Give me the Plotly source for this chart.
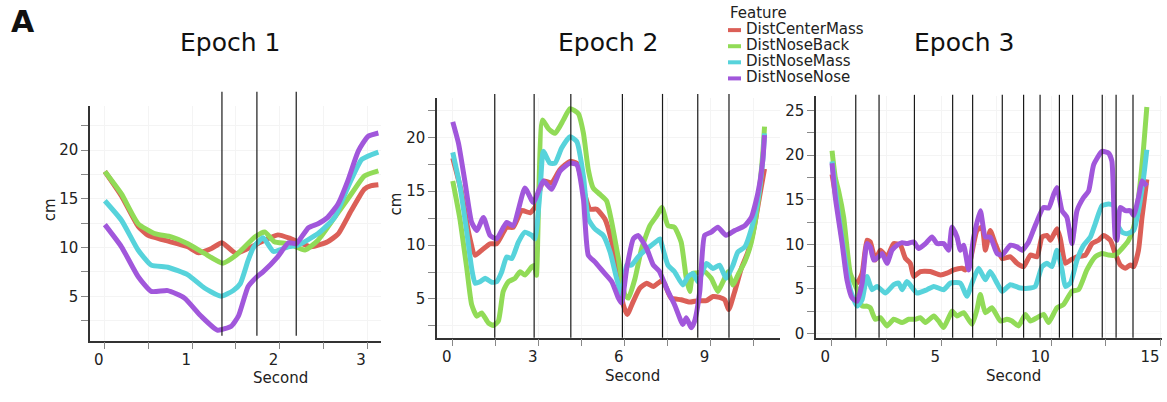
import plotly.graph_objects as go

W, H = 1167, 402
FONT = "DejaVu Sans"

features = ["DistCenterMass", "DistNoseBack", "DistNoseMass", "DistNoseNose"]
colors = ["#db5f57", "#91db57", "#57d3db", "#a157db"]
epoch_titles = ["Epoch 1", "Epoch 2", "Epoch 3"]

# ---------------- Epoch 1 ----------------
e1_center_t = [0.0, 0.19, 0.38, 0.49, 0.68, 0.95, 1.07, 1.22, 1.34, 1.5, 1.75, 1.98, 2.13, 2.36, 2.55, 2.67, 2.82, 2.97, 3.05, 3.13]
e1_center_v = [17.8, 15.3, 12.2, 11.27, 10.76, 10.08, 9.47, 9.9, 10.5, 9.4, 10.4, 11.3, 10.9, 10.08, 10.6, 11.4, 13.8, 16.0, 16.35, 16.45]
e1_back_t = [0.0, 0.19, 0.38, 0.57, 0.76, 0.95, 1.14, 1.35, 1.5, 1.72, 1.83, 1.94, 2.10, 2.29, 2.44, 2.63, 2.82, 2.97, 3.13]
e1_back_v = [17.8, 15.5, 12.45, 11.43, 11.1, 10.4, 9.4, 8.4, 9.2, 11.1, 11.6, 10.6, 10.4, 9.75, 10.76, 13.1, 15.5, 17.35, 17.87]
e1_mass_t = [0.0, 0.19, 0.38, 0.53, 0.72, 0.95, 1.14, 1.33, 1.47, 1.55, 1.64, 1.70, 1.81, 1.93, 2.10, 2.21, 2.44, 2.63, 2.78, 2.94, 3.13]
e1_mass_v = [14.8, 12.8, 9.75, 8.2, 7.98, 7.2, 5.85, 5.0, 5.6, 6.3, 8.7, 10.0, 11.0, 9.6, 10.08, 10.25, 11.43, 13.1, 16.17, 19.05, 19.8]
e1_nose_t = [0.0, 0.19, 0.38, 0.53, 0.72, 0.91, 1.10, 1.29, 1.45, 1.53, 1.64, 1.74, 1.81, 1.98, 2.10, 2.19, 2.33, 2.44, 2.55, 2.67, 2.78, 2.90, 3.01, 3.13]
e1_nose_v = [12.35, 10.08, 7.03, 5.5, 5.58, 4.83, 2.97, 1.52, 1.96, 3.0, 6.0, 7.0, 7.5, 9.07, 10.5, 10.4, 12.04, 12.45, 13.1, 14.5, 16.85, 19.9, 21.4, 21.75]
e1_events = [1.34, 1.74, 2.19]

# ---------------- Epoch 2 ----------------
e2_center_t = [0, 0.31, 0.55, 0.78, 1.01, 1.30, 1.53, 1.88, 2.11, 2.41, 2.70, 2.87, 3.16, 3.45, 3.74, 4.09, 4.33, 4.56, 4.79, 5.02, 5.31, 5.55, 5.78, 5.95, 6.09, 6.30, 6.53, 6.77, 7.0, 7.29, 7.39, 7.62, 7.97, 8.27, 8.56, 8.85, 9.08, 9.31, 9.49, 9.63, 9.84, 10.07, 10.3, 10.53, 10.71, 10.88]
e2_center_v = [18.07, 14.86, 11.2, 9.06, 9.52, 10.12, 10.12, 11.65, 11.65, 13.2, 13.0, 13.5, 15.94, 15.78, 17.0, 17.77, 17.6, 15.17, 13.33, 13.33, 12.42, 10.28, 6.92, 4.47, 3.56, 4.78, 6.0, 6.45, 6.15, 6.7, 6.4, 5.08, 4.93, 4.71, 4.84, 4.84, 5.23, 5.14, 4.93, 4.01, 5.7, 7.83, 9.36, 11.8, 14.56, 17.07]
e2_back_t = [0, 0.25, 0.49, 0.66, 0.84, 1.01, 1.24, 1.42, 1.59, 1.76, 1.94, 2.17, 2.35, 2.52, 2.76, 2.85, 2.92, 3.13, 3.34, 3.57, 3.86, 4.09, 4.38, 4.56, 4.73, 4.9, 5.14, 5.37, 5.55, 5.78, 6.01, 6.13, 6.36, 6.59, 6.88, 7.12, 7.3, 7.51, 7.74, 7.97, 8.15, 8.27, 8.38, 8.5, 8.79, 9.02, 9.25, 9.43, 9.6, 9.78, 9.95, 10.19, 10.42, 10.65, 10.82, 10.88]
e2_back_v = [15.94, 12.42, 7.83, 4.47, 3.4, 3.7, 2.78, 2.54, 2.94, 5.69, 6.6, 6.91, 7.53, 7.22, 7.98, 8.1, 7.2, 21.6, 20.8, 20.37, 21.6, 22.66, 22.2, 20.37, 17.0, 15.3, 14.7, 14.1, 12.1, 8.75, 5.38, 5.08, 6.9, 9.66, 11.8, 12.73, 13.5, 11.8, 11.65, 10.28, 6.92, 5.7, 7.37, 7.4, 7.53, 6.92, 5.7, 6.6, 7.53, 6.3, 7.22, 8.44, 10.28, 13.95, 18.53, 21.0]
e2_mass_t = [0, 0.25, 0.49, 0.66, 0.78, 0.95, 1.13, 1.36, 1.53, 1.71, 1.88, 2.06, 2.29, 2.52, 2.76, 2.87, 3.05, 3.16, 3.39, 3.57, 3.80, 4.09, 4.33, 4.56, 4.73, 4.96, 5.25, 5.49, 5.72, 5.89, 6.07, 6.24, 6.47, 6.77, 7.0, 7.23, 7.3, 7.51, 7.74, 8.03, 8.21, 8.38, 8.56, 8.85, 9.08, 9.31, 9.54, 9.78, 9.95, 10.19, 10.42, 10.65, 10.82, 10.88]
e2_mass_v = [18.6, 15.48, 11.2, 7.83, 6.45, 6.6, 6.91, 6.55, 6.6, 7.53, 8.9, 8.75, 10.28, 11.2, 10.9, 10.58, 15.17, 18.7, 17.6, 17.6, 19.0, 20.06, 19.6, 16.4, 12.42, 11.5, 10.9, 9.36, 6.9, 5.39, 8.14, 8.14, 8.9, 9.66, 10.12, 10.58, 10.0, 8.14, 7.53, 6.3, 7.07, 7.37, 6.6, 8.29, 7.83, 8.14, 6.92, 8.14, 9.36, 9.82, 11.5, 14.25, 17.9, 20.37]
e2_nose_t = [0, 0.2, 0.43, 0.66, 0.84, 1.07, 1.30, 1.53, 1.88, 2.11, 2.52, 2.81, 3.16, 3.45, 3.74, 4.09, 4.33, 4.56, 4.73, 4.96, 5.25, 5.55, 5.78, 5.89, 6.07, 6.30, 6.47, 6.77, 7.0, 7.2, 7.51, 7.74, 8.03, 8.15, 8.32, 8.44, 8.62, 8.79, 9.02, 9.25, 9.54, 9.84, 10.19, 10.42, 10.65, 10.82, 10.88]
e2_nose_v = [21.44, 19.45, 15.8, 12.1, 11.35, 12.57, 10.9, 10.58, 12.1, 11.8, 15.3, 13.95, 15.94, 15.17, 16.85, 17.6, 17.46, 14.25, 9.06, 8.44, 7.53, 6.6, 5.08, 4.63, 7.83, 10.58, 10.9, 9.66, 8.14, 7.6, 5.7, 4.47, 2.64, 3.25, 2.33, 2.94, 5.7, 10.9, 11.2, 11.65, 10.9, 11.35, 11.8, 12.57, 14.86, 17.9, 20.2]
e2_events = [1.465, 2.84, 4.12, 5.92, 7.32, 8.55, 9.64]

# ---------------- Epoch 3 ----------------
e3_center_t = [0.03, 0.26, 0.56, 0.86, 1.17, 1.40, 1.62, 1.77, 2.0, 2.23, 2.53, 2.84, 3.14, 3.37, 3.59, 3.75, 4.05, 4.5, 4.96, 5.26, 5.57, 5.95, 6.10, 6.32, 6.63, 6.86, 7.01, 7.23, 7.46, 7.77, 8.15, 8.45, 8.75, 9.06, 9.36, 9.59, 9.81, 9.97, 10.27, 10.42, 10.65, 10.88, 11.18, 11.56, 11.86, 12.16, 12.39, 12.70, 12.92, 13.15, 13.38, 13.61, 13.76, 13.98, 14.14, 14.36]
e3_center_v = [17.84, 14.5, 9.71, 6.39, 5.65, 6.76, 10.45, 10.27, 8.23, 9.34, 8.6, 10.08, 9.9, 8.42, 7.87, 6.39, 6.94, 6.94, 6.57, 6.76, 7.13, 7.31, 7.13, 8.23, 11.56, 11.93, 9.34, 11.56, 10.08, 8.42, 8.6, 7.87, 7.5, 8.79, 8.6, 10.82, 11.0, 10.45, 11.74, 10.64, 7.87, 8.23, 8.6, 8.79, 10.08, 10.45, 11.0, 10.45, 8.97, 7.68, 7.31, 7.68, 7.5, 9.34, 13.03, 17.28]
e3_back_t = [0.03, 0.18, 0.33, 0.56, 0.86, 1.17, 1.40, 1.62, 1.77, 2.0, 2.23, 2.53, 2.84, 3.22, 3.52, 3.82, 4.05, 4.28, 4.66, 4.88, 5.11, 5.34, 5.49, 5.72, 6.02, 6.40, 6.63, 6.78, 7.01, 7.31, 7.69, 7.99, 8.22, 8.52, 8.83, 9.06, 9.36, 9.66, 9.89, 10.27, 10.57, 10.95, 11.25, 11.63, 12.01, 12.32, 12.62, 12.92, 13.23, 13.53, 13.76, 13.98, 14.21, 14.36]
e3_back_v = [20.5, 17.47, 15.99, 13.03, 6.76, 4.91, 3.07, 3.07, 2.88, 1.59, 1.77, 0.85, 1.59, 1.22, 1.59, 1.59, 1.77, 1.22, 1.96, 1.4, 0.66, 1.77, 2.51, 1.96, 2.33, 1.03, 2.7, 4.36, 2.33, 2.88, 1.4, 1.59, 1.4, 0.85, 2.14, 1.4, 1.77, 2.14, 1.22, 2.88, 3.25, 4.73, 4.91, 7.13, 8.6, 8.97, 8.79, 8.79, 9.53, 10.45, 11.93, 15.25, 20.79, 25.4]
e3_mass_t = [0.03, 0.26, 0.56, 0.86, 1.17, 1.40, 1.62, 1.85, 2.08, 2.46, 2.84, 3.06, 3.22, 3.44, 3.90, 4.35, 4.66, 5.11, 5.41, 5.87, 6.17, 6.40, 6.70, 7.01, 7.23, 7.54, 7.77, 8.15, 8.60, 9.06, 9.28, 9.59, 9.81, 10.04, 10.27, 10.50, 10.65, 10.88, 11.18, 11.48, 11.79, 12.01, 12.32, 12.62, 12.85, 13.0, 13.23, 13.45, 13.76, 13.98, 14.21, 14.36]
e3_mass_v = [19.3, 14.5, 9.34, 4.91, 3.07, 3.8, 6.39, 4.91, 5.28, 4.54, 5.47, 5.65, 4.91, 5.83, 4.54, 4.91, 5.28, 4.91, 5.65, 5.65, 4.17, 5.65, 7.31, 6.02, 6.94, 5.65, 4.73, 5.47, 5.1, 5.1, 5.28, 7.5, 7.87, 7.5, 9.34, 7.13, 5.28, 5.65, 8.23, 9.9, 10.82, 12.3, 14.33, 14.51, 14.33, 12.3, 11.37, 11.19, 11.56, 13.77, 17.47, 20.61]
e3_nose_t = [0.03, 0.18, 0.49, 0.71, 0.94, 1.17, 1.40, 1.62, 1.77, 1.93, 2.15, 2.31, 2.53, 2.76, 2.99, 3.22, 3.44, 3.75, 3.97, 4.28, 4.58, 4.81, 5.11, 5.34, 5.49, 5.72, 5.87, 6.02, 6.25, 6.48, 6.78, 7.01, 7.23, 7.54, 7.77, 8.15, 8.45, 8.68, 8.98, 9.28, 9.66, 9.89, 10.12, 10.27, 10.50, 10.72, 10.95, 11.18, 11.48, 11.71, 11.94, 12.32, 12.62, 12.77, 12.92, 13.0, 13.15, 13.38, 13.61, 13.76, 13.98, 14.14, 14.29, 14.36]
e3_nose_v = [19.1, 15.25, 10.08, 6.0, 3.99, 3.62, 5.65, 10.08, 9.7, 8.23, 8.6, 8.97, 7.87, 9.34, 9.9, 10.19, 10.08, 10.27, 9.53, 10.08, 10.82, 10.08, 10.08, 9.34, 11.93, 10.82, 9.34, 9.9, 7.13, 10.82, 13.77, 10.82, 10.82, 8.97, 8.79, 9.9, 9.71, 9.34, 10.27, 12.11, 14.14, 14.07, 15.62, 16.36, 13.77, 13.03, 10.08, 13.77, 15.25, 15.99, 18.94, 20.42, 20.24, 19.31, 10.82, 10.45, 14.14, 13.77, 13.77, 13.22, 15.25, 17.1, 16.73, 16.54]
e3_events = [1.11, 2.17, 3.78, 5.52, 6.43, 7.78, 8.75, 9.50, 10.38, 10.98, 12.33, 12.96, 13.73]

epochs = [
    [(e1_center_t, e1_center_v), (e1_back_t, e1_back_v), (e1_mass_t, e1_mass_v), (e1_nose_t, e1_nose_v)],
    [(e2_center_t, e2_center_v), (e2_back_t, e2_back_v), (e2_mass_t, e2_mass_v), (e2_nose_t, e2_nose_v)],
    [(e3_center_t, e3_center_v), (e3_back_t, e3_back_v), (e3_mass_t, e3_mass_v), (e3_nose_t, e3_nose_v)],
]
events = [e1_events, e2_events, e3_events]

# panel geometry (pixels) and axis setup
panels = [
    dict(left=90, right=381, top=107, bottom=345, xr=[-0.17, 3.16], yr=[0.44, 24.56],
         xdt=1, ydt=5, ev_y=(0.021, 1.059), title_x=230, xlab_x=280, xlab_y=383, ylab=(50, 213)),
    dict(left=437, right=780, top=99, bottom=342, xr=[-0.55, 11.42], yr=[1.40, 23.67],
         xdt=3, ydt=5, ev_y=(0.0, 1.016), title_x=608, xlab_x=632, xlab_y=381, ylab=(396, 207)),
    dict(left=816, right=1162, top=97, bottom=342, xr=[-0.70, 15.05], yr=[-0.48, 26.66],
         xdt=5, ydt=5, ev_y=(0.0, 1.004), title_x=964, xlab_x=1013, xlab_y=381, ylab=None),
]


def px(x):
    return x / W


def py(y):
    return 1 - y / H


fig = go.Figure()
shapes = []
annotations = []
layout_axes = {}

for i, (p, series, ev) in enumerate(zip(panels, epochs, events)):
    n = "" if i == 0 else str(i + 1)
    xa, ya = "x" + n, "y" + n
    for (t, v), name, col in zip(series, features, colors):
        fig.add_trace(go.Scatter(
            x=t, y=v, mode="lines", name=name, showlegend=False,
            line=dict(color=col, width=5, shape="spline", smoothing=0.5),
            xaxis=xa, yaxis=ya,
        ))
    common = dict(
        showline=True, linecolor="#333333", linewidth=1.5,
        ticks="outside", ticklen=7, tickwidth=1, tickcolor="#888888",
        tickfont=dict(family=FONT, size=15, color="#222222"),
        showgrid=True, gridcolor="#f4f4f4", gridwidth=1, zeroline=False,
    )
    layout_axes["xaxis" + n] = dict(
        common, domain=[px(p["left"]), px(p["right"])], range=p["xr"],
        anchor=ya, dtick=p["xdt"], tick0=0, ticklabelposition="outside left",
        ticklabelstandoff=5,
        minor=dict(dtick=p["xdt"] / 2, ticks="outside", ticklen=7, tickcolor="#888888",
                   showgrid=True, gridcolor="#f4f4f4"),
    )
    layout_axes["yaxis" + n] = dict(
        common, domain=[py(p["bottom"]), py(p["top"])], range=p["yr"],
        anchor=xa, dtick=p["ydt"], tick0=0,
        minor=dict(dtick=p["ydt"] / 2, ticks="outside", ticklen=7, tickcolor="#888888",
                   showgrid=True, gridcolor="#f4f4f4"),
    )
    for t in ev:
        shapes.append(dict(type="line", xref=xa, yref=ya + " domain",
                           x0=t, x1=t, y0=p["ev_y"][0], y1=p["ev_y"][1],
                           line=dict(color="#1a1a1a", width=1.2), layer="above"))
    annotations.append(dict(text=epoch_titles[i], x=px(p["title_x"]), y=py(43),
                            xref="paper", yref="paper", showarrow=False,
                            xanchor="center", yanchor="middle",
                            font=dict(family=FONT, size=25, color="#111111")))
    annotations.append(dict(text="Second", x=px(p["xlab_x"]), y=py(p["xlab_y"]),
                            xref="paper", yref="paper", showarrow=False,
                            xanchor="center", yanchor="middle",
                            font=dict(family=FONT, size=15, color="#222222")))
    if p["ylab"]:
        annotations.append(dict(text="cm", x=px(p["ylab"][0]), y=py(p["ylab"][1]),
                                xref="paper", yref="paper", showarrow=False, textangle=-90,
                                xanchor="center", yanchor="middle",
                                font=dict(family=FONT, size=15, color="#222222")))

# legend: title plus one swatch and label per feature, in compact rows
legend_title_y = 13.0
legend_rows = [30.5, 46.8, 63.1, 79.4]
annotations.append(dict(text="Feature", x=px(728), y=py(legend_title_y), xref="paper", yref="paper",
                        showarrow=False, xanchor="left", yanchor="middle", height=16,
                        font=dict(family=FONT, size=15, color="#222222")))
for name, col, yc in zip(features, colors, legend_rows):
    shapes.append(dict(type="line", xref="paper", yref="paper",
                       x0=px(728), x1=px(741), y0=py(yc), y1=py(yc),
                       line=dict(color=col, width=4)))
    annotations.append(dict(text=name, x=px(744), y=py(yc - 1), xref="paper", yref="paper",
                            showarrow=False, xanchor="left", yanchor="middle", height=16,
                            font=dict(family=FONT, size=15, color="#222222")))

# panel letter
annotations.append(dict(text="<b>A</b>", x=px(9), y=py(22), xref="paper", yref="paper",
                        showarrow=False, xanchor="left", yanchor="middle",
                        font=dict(family=FONT, size=30, color="#111111")))

fig.update_layout(
    width=W, height=H, margin=dict(l=0, r=0, t=0, b=0),
    paper_bgcolor="white", plot_bgcolor="white",
    showlegend=False, shapes=shapes, annotations=annotations,
    font=dict(family=FONT),
    **layout_axes,
)

fig.write_html("out.html")
